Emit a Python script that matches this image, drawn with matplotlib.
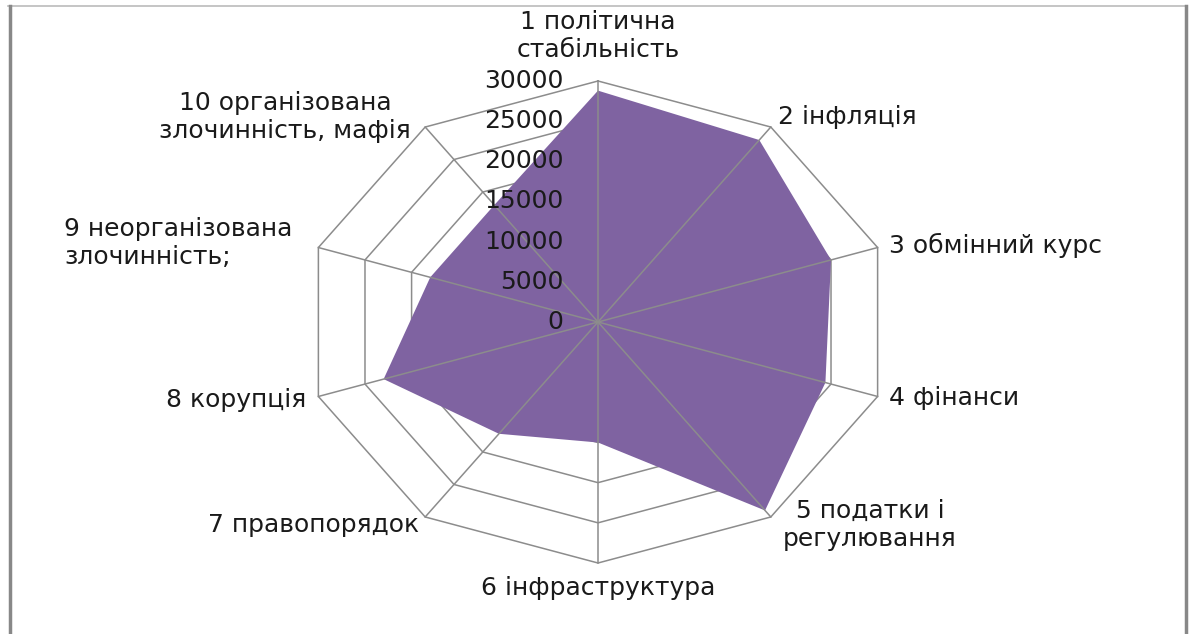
import numpy as np
import matplotlib
matplotlib.use("Agg")
import matplotlib.pyplot as plt
from matplotlib.lines import Line2D

categories = ["1 політична\nстабільність", "2 інфляція", "3 обмінний курс", "4 фінанси",
              "5 податки і\nрегулювання", "6 інфраструктура", "7 правопорядок",
              "8 корупція", "9 неорганізована\nзлочинність;", "10 організована\nзлочинність, мафія"]
values = [28800, 28000, 25000, 24400, 29000, 15000, 17200, 23000, 18000, 18000]
ticks = [0, 5000, 10000, 15000, 20000, 25000, 30000]
rmax = 30000

FILL = "#7F63A1"
GRID = "#8C8C8C"
FONT = "DejaVu Sans"
FS = 18

W, H = 1190, 634
fig = plt.figure(figsize=(W / 100, H / 100), dpi=100)
ax = fig.add_axes([0, 0, 1, 1])
ax.set_axis_off()

# pixel geometry -> data limits (horizontal stretch like the original)
cx, cy = 598, 322
rx, ry = 294, 241
ax.set_xlim(-cx / rx * rmax, (W - cx) / rx * rmax)
ax.set_ylim(-(H - cy) / ry * rmax, cy / ry * rmax)

n = len(categories)
theta = np.arange(n) * 2 * np.pi / n
sx, sy = np.sin(theta), np.cos(theta)

# rings (polygonal grid) below the fill
for t in ticks[1:]:
    ax.plot(np.append(t * sx, t * sx[0]), np.append(t * sy, t * sy[0]),
            color=GRID, lw=1.1, zorder=1)

v = np.array(values)
ax.fill(v * sx, v * sy, color=FILL, zorder=2, lw=0)

# spokes above the fill
for i in range(n):
    ax.plot([0, rmax * sx[i]], [0, rmax * sy[i]], color=GRID, lw=1.1, zorder=3)

# radial tick labels
for t in ticks:
    ax.text(-rmax * 0.118, t, f"{t}", ha="right", va="center", fontsize=FS,
            family=FONT, color="#1a1a1a", zorder=4)

# category labels (pixel positions)
lab = [
    (598, 36, "center", "center", "center"),
    (778, 117, "left", "center", "left"),
    (889, 245, "left", "center", "left"),
    (889, 398, "left", "center", "left"),
    (870, 525, "center", "center", "center"),
    (598, 588, "center", "center", "center"),
    (419, 525, "right", "center", "right"),
    (306, 400, "right", "center", "right"),
    (64, 243, "left", "center", "left"),
    (285, 117, "center", "center", "center"),
]
for txt, (px, py, ha, va, ma) in zip(categories, lab):
    fig.text(px / W, 1 - py / H, txt, ha=ha, va=va, multialignment=ma,
             fontsize=FS, family=FONT, color="#1a1a1a", linespacing=1.2)

# outer frame
fig.add_artist(Line2D([8 / W, 1186 / W], [1 - 6 / H, 1 - 6 / H], color="#BBBBBB", lw=1.2))
fig.add_artist(Line2D([10 / W, 10 / W], [0, 1 - 6 / H], color="#888888", lw=2.5))
fig.add_artist(Line2D([1186 / W, 1186 / W], [0, 1 - 6 / H], color="#888888", lw=2.5))

fig.savefig("out.png", dpi=100)
